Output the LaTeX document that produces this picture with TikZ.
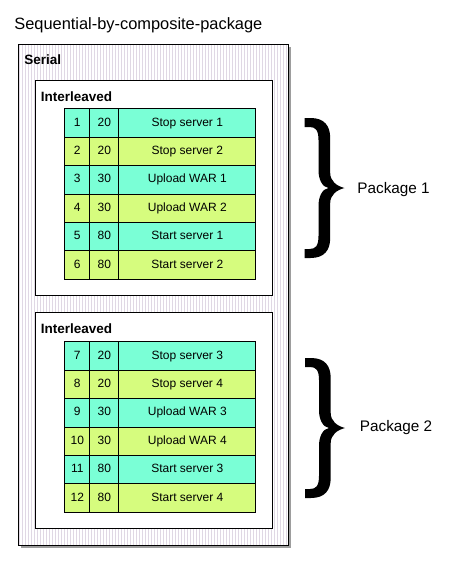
\documentclass[tikz,border=0pt]{standalone}
\usepackage{fontspec}
\setmainfont{Liberation Sans}
\usetikzlibrary{matrix,positioning,shadows}
\definecolor{cellcyan}{RGB}{122,255,214}
\definecolor{cellgreen}{RGB}{214,252,126}
\definecolor{stripe}{RGB}{224,216,228}
\tikzset{
mymat/.style={
  matrix of nodes,
  nodes in empty cells,
  inner sep=0pt,
  nodes={draw=black, inner sep=0pt, anchor=center,
    minimum height=28.4pt, text height=8.6pt, text depth=2.5pt,
    font=\fontsize{12}{14}\selectfont},
  column 1/.style={nodes={minimum width=25pt}},
  column 2/.style={nodes={minimum width=29pt}},
  column 3/.style={nodes={minimum width=137pt}},
  column sep=-\pgflinewidth,
  row sep=-\pgflinewidth
  }
}
\tikzset{
  fillrows/.style 2 args={
    fill@row/.style={row ##1/.style={nodes={fill=#2}}},
    fill@row/.list={#1}
  },
  serialbox/.style={draw=black, fill=white, inner sep=0pt, outer sep=0pt,
    anchor=north west,
    drop shadow={shadow xshift=3pt, shadow yshift=-3pt, fill=black!55, opacity=.7},
    path picture={
      \foreach \x in {1.5,4.5,...,270}
        \draw[stripe, line width=1.3pt]
          ([xshift=\x pt]path picture bounding box.north west) --
          ([xshift=\x pt]path picture bounding box.south west);
    }},
  groupbox/.style={draw=black, fill=white, inner sep=0pt, outer sep=0pt,
    anchor=north west},
  boxlabel/.style={anchor=base west, inner sep=0pt,
    font=\bfseries\fontsize{13.5}{16}\selectfont},
  pkglabel/.style={anchor=base west, inner sep=0pt,
    font=\fontsize{15.3}{18}\selectfont},
  pkgbrace/.pic={
    \fill[black] (0,0) -- (6,0) .. controls (20,0) and (25.7,8) .. (25.7,20)
      -- (25.7,55) .. controls (25.7,63) and (32,68) .. (40,70)
      .. controls (32,72) and (25.7,77) .. (25.7,85)
      -- (25.7,120) .. controls (25.7,132) and (20,140) .. (6,140)
      -- (0,140) -- (0,131) -- (5,131) .. controls (11,131) and (14,128) .. (14,118)
      -- (14,88) .. controls (14,78) and (18,71) .. (24,70)
      .. controls (18,69) and (14,62) .. (14,52)
      -- (14,22) .. controls (14,12) and (11,9) .. (5,9) -- (0,9) -- cycle;
  }
}
\begin{document}
\begin{tikzpicture}[x=1pt, y=-1pt, line width=0.8pt]
\useasboundingbox (0,0) rectangle (450,563);

\node[anchor=base west, inner sep=0pt, font=\fontsize{16.4}{19}\selectfont]
  (title) at (14,29) {Sequential-by-composite-package};

\node[serialbox, minimum width=270pt, minimum height=501pt]
  (serial) at (18,44) {};
\node[boxlabel] (seriallabel) at (24,64.5) {Serial};

\node[groupbox, minimum width=237pt, minimum height=215pt]
  (group1) at (35,80) {};
\node[boxlabel] (group1label) at (40.5,101) {Interleaved};

\node[groupbox, minimum width=237pt, minimum height=216pt]
  (group2) at (35,312) {};
\node[boxlabel] (group2label) at (40.5,333) {Interleaved};

\matrix[mymat,anchor=north west,
    fillrows={1,3,5}{cellcyan},
    fillrows={2,4,6}{cellgreen}]
at (64,108)
(mat1)
{
  1 & 20 & Stop server 1 \\
  2 & 20 & Stop server 2 \\
  3 & 30 & Upload WAR 1 \\
  4 & 30 & Upload WAR 2 \\
  5 & 80 & Start server 1 \\
  6 & 80 & Start server 2 \\};

\matrix[mymat,anchor=north west,
    fillrows={1,3,5}{cellcyan},
    fillrows={2,4,6}{cellgreen}]
at (64,341)
(mat2)
{
  7 & 20 & Stop server 3 \\
  8 & 20 & Stop server 4 \\
  9 & 30 & Upload WAR 3 \\
  10 & 30 & Upload WAR 4 \\
  11 & 80 & Start server 3 \\
  12 & 80 & Start server 4 \\};

\pic (brace1) at (304.5,118) {pkgbrace};
\pic (brace2) at (305,358) {pkgbrace};

\node[pkglabel] (pkg1) at (357,193.5) {Package 1};
\node[pkglabel] (pkg2) at (359.5,431) {Package 2};

\end{tikzpicture}
\end{document}
